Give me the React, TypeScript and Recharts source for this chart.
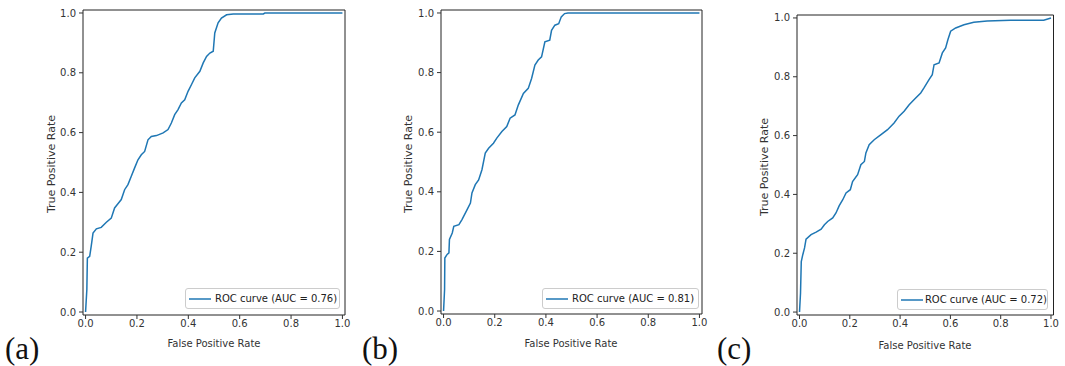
import React from "react";
import { LineChart, Line, XAxis, YAxis, ReferenceArea, Legend } from "recharts";

// ---- data ----
const fprA = [0, 0.005, 0.007, 0.016, 0.022, 0.029, 0.042, 0.061, 0.081, 0.1, 0.113, 0.126, 0.139, 0.152, 0.165, 0.178, 0.191, 0.204, 0.217, 0.23, 0.243, 0.256, 0.276, 0.302, 0.321, 0.334, 0.347, 0.36, 0.373, 0.386, 0.399, 0.412, 0.425, 0.445, 0.458, 0.471, 0.484, 0.497, 0.503, 0.516, 0.529, 0.549, 0.575, 0.692, 0.698, 1];
const tprA = [0, 0.075, 0.18, 0.186, 0.22, 0.264, 0.278, 0.283, 0.3, 0.314, 0.348, 0.362, 0.376, 0.409, 0.426, 0.454, 0.482, 0.509, 0.526, 0.537, 0.576, 0.587, 0.59, 0.599, 0.61, 0.632, 0.66, 0.677, 0.699, 0.71, 0.738, 0.76, 0.783, 0.805, 0.833, 0.855, 0.866, 0.872, 0.933, 0.967, 0.983, 0.994, 0.997, 0.997, 1.0, 1.0];

const fprB = [0, 0.004, 0.005, 0.014, 0.021, 0.023, 0.034, 0.04, 0.06, 0.072, 0.092, 0.105, 0.111, 0.124, 0.137, 0.15, 0.163, 0.176, 0.195, 0.208, 0.228, 0.247, 0.26, 0.279, 0.292, 0.312, 0.331, 0.344, 0.357, 0.37, 0.383, 0.396, 0.415, 0.422, 0.435, 0.45, 0.46, 0.473, 0.486, 1];
const tprB = [0, 0.072, 0.178, 0.19, 0.195, 0.24, 0.262, 0.284, 0.29, 0.307, 0.34, 0.362, 0.396, 0.424, 0.44, 0.474, 0.53, 0.546, 0.563, 0.58, 0.602, 0.619, 0.647, 0.658, 0.691, 0.73, 0.747, 0.78, 0.825, 0.842, 0.853, 0.903, 0.909, 0.942, 0.959, 0.964, 0.987, 0.998, 1.0, 1.0];

const fprC = [0, 0.004, 0.007, 0.013, 0.02, 0.026, 0.046, 0.066, 0.086, 0.099, 0.112, 0.132, 0.145, 0.158, 0.172, 0.185, 0.202, 0.211, 0.231, 0.244, 0.258, 0.264, 0.277, 0.297, 0.324, 0.35, 0.376, 0.396, 0.416, 0.436, 0.462, 0.482, 0.495, 0.515, 0.528, 0.535, 0.555, 0.568, 0.581, 0.59, 0.601, 0.621, 0.654, 0.693, 0.746, 0.839, 0.971, 1];
const tprC = [0, 0.065, 0.172, 0.195, 0.218, 0.248, 0.263, 0.272, 0.282, 0.297, 0.308, 0.32, 0.337, 0.362, 0.382, 0.405, 0.416, 0.444, 0.467, 0.501, 0.512, 0.541, 0.569, 0.586, 0.603, 0.62, 0.643, 0.666, 0.683, 0.705, 0.728, 0.745, 0.762, 0.79, 0.807, 0.841, 0.847, 0.881, 0.898, 0.926, 0.955, 0.966, 0.977, 0.985, 0.99, 0.992, 0.992, 1.0];

const aucValues = ["0.76", "0.81", "0.72"];
const panelLetters = ["(a)", "(b)", "(c)"];
const axisTicks = [0, 0.2, 0.4, 0.6, 0.8, 1.0];
const xTitle = "False Positive Rate";
const yTitle = "True Positive Rate";

const BLUE = "#1f77b4";
const FONT = "'DejaVu Sans', sans-serif";

type Layout = {
  left: number; width: number;
  plotL: number; plotR: number; plotT: number; plotB: number;
  legL: number; legT: number; legW: number;
  xTitleX: number; xTitleY: number; yTitleX: number; yTitleY: number;
  letterX: number;
};

const layouts: Layout[] = [
  { left: 0, width: 360, plotL: 83, plotR: 345, plotT: 10, plotB: 315, legL: 185, legT: 288, legW: 155, xTitleX: 214, xTitleY: 343, yTitleX: 51, yTitleY: 164, letterX: 5 },
  { left: 355, width: 360, plotL: 441, plotR: 702, plotT: 10, plotB: 314, legL: 542, legT: 288, legW: 157, xTitleX: 571, xTitleY: 343, yTitleX: 408, yTitleY: 164, letterX: 362 },
  { left: 710, width: 355, plotL: 797, plotR: 1053.5, plotT: 15, plotB: 315, legL: 897, legT: 289, legW: 151, xTitleX: 925, xTitleY: 345, yTitleX: 764, yTitleY: 167, letterX: 717 },
];

const series = [
  { fpr: fprA, tpr: tprA },
  { fpr: fprB, tpr: tprB },
  { fpr: fprC, tpr: tprC },
];

const Y_AXIS_W = 40;
const X_AXIS_H = 25;
const H = 366;

function Panel({ idx }: { idx: number }) {
  const L = layouts[idx];
  const s = series[idx];
  const data = s.fpr.map((x, i) => ({ x, y: s.tpr[i] }));
  const margin = {
    left: L.plotL - L.left - Y_AXIS_W,
    right: L.left + L.width - L.plotR,
    top: L.plotT,
    bottom: H - L.plotB - X_AXIS_H,
  };
  const label = `ROC curve (AUC = ${aucValues[idx]})`;
  const legendContent = () => (
    <div
      style={{
        width: L.legW,
        height: 21,
        boxSizing: "border-box",
        border: "1px solid #cccccc",
        borderRadius: 3,
        background: "rgba(255,255,255,0.85)",
        display: "flex",
        alignItems: "center",
        fontFamily: FONT,
        fontSize: 10,
        color: "#222",
        whiteSpace: "nowrap",
      }}
    >
      <svg width={26} height={10} style={{ marginLeft: 2 }}>
        <line x1={1} y1={5} x2={23} y2={5} stroke={BLUE} strokeWidth={1.5} />
      </svg>
      <span style={{ marginLeft: 1 }}>{label}</span>
    </div>
  );
  return (
    <div style={{ position: "absolute", left: L.left, top: 0, width: L.width, height: H }}>
      <LineChart width={L.width} height={H} data={data} margin={margin}>
        <XAxis
          type="number"
          dataKey="x"
          domain={[-0.01, 1.01]}
          allowDataOverflow
          ticks={axisTicks}
          tickFormatter={(v: number) => v.toFixed(1)}
          height={X_AXIS_H}
          axisLine={false}
          tickSize={4}
          tickMargin={1}
          tickLine={{ stroke: "#333" }}
          tick={{ fontSize: 10, fill: "#333", fontFamily: FONT }}
          interval={0}
        />
        <YAxis
          type="number"
          dataKey="y"
          domain={[-0.01, 1.01]}
          allowDataOverflow
          ticks={axisTicks}
          tickFormatter={(v: number) => v.toFixed(1)}
          width={Y_AXIS_W}
          axisLine={false}
          tickSize={4}
          tickMargin={3}
          tickLine={{ stroke: "#333" }}
          tick={{ fontSize: 10, fill: "#333", fontFamily: FONT }}
          interval={0}
        />
        <ReferenceArea
          x1={-0.01}
          x2={1.01}
          y1={-0.01}
          y2={1.01}
          fill="none"
          fillOpacity={0}
          stroke="#222"
          strokeWidth={1}
          ifOverflow="visible"
        />
        <Line
          type="linear"
          dataKey="y"
          stroke={BLUE}
          strokeWidth={1.5}
          dot={false}
          activeDot={false}
          isAnimationActive={false}
          name={label}
        />
        <Legend
          layout="horizontal"
          verticalAlign="middle"
          align="center"
          content={legendContent}
          wrapperStyle={{ left: L.legL - L.left, top: L.legT, width: L.legW, height: 21 }}
        />
      </LineChart>
    </div>
  );
}

export default function App() {
  return (
    <div style={{ position: "absolute", left: 0, top: 0, width: 1065, height: H, background: "#fff", overflow: "hidden" }}>
      {[0, 1, 2].map((i) => (
        <Panel key={i} idx={i} />
      ))}
      <svg width={1065} height={H} style={{ position: "absolute", left: 0, top: 0, pointerEvents: "none" }}>
        {layouts.map((L, i) => (
          <g key={i}>
            <text x={L.xTitleX} y={L.xTitleY} textAnchor="middle" dominantBaseline="central" fontFamily={FONT} fontSize={10} fill="#333">
              {xTitle}
            </text>
            <text
              x={L.yTitleX}
              y={L.yTitleY}
              textAnchor="middle"
              dominantBaseline="central"
              fontFamily={FONT}
              fontSize={11}
              fill="#333"
              transform={`rotate(-90 ${L.yTitleX} ${L.yTitleY})`}
            >
              {yTitle}
            </text>
            <text x={L.letterX} y={359} fontFamily="'Liberation Serif', 'Times New Roman', serif" fontSize={31} fill="#111">
              {panelLetters[i]}
            </text>
          </g>
        ))}
      </svg>
    </div>
  );
}
